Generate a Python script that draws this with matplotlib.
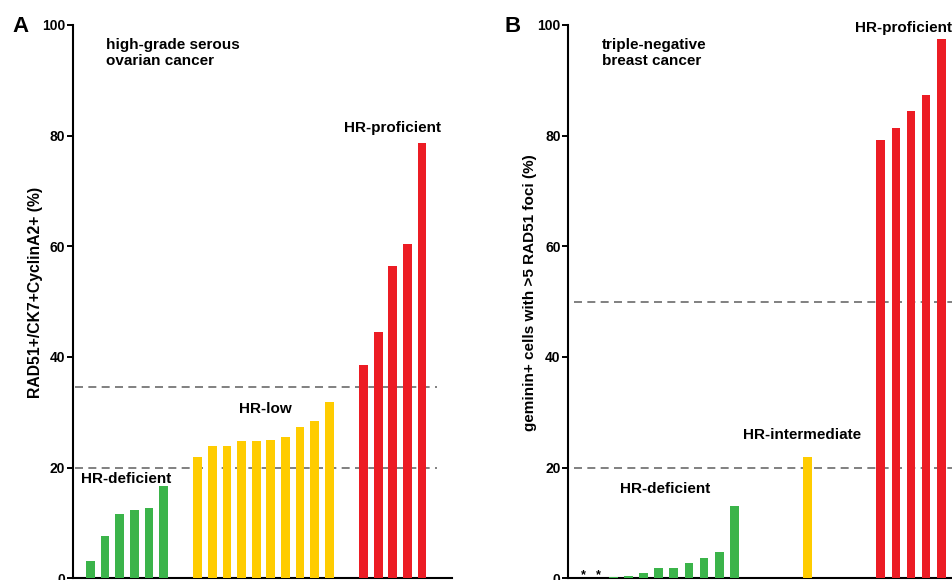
import matplotlib.pyplot as plt

plt.rcParams['font.family'] = ['Liberation Sans', 'DejaVu Sans']
plt.rcParams['font.weight'] = 'bold'

GREEN = '#3bb44a'
YELLOW = '#ffcc00'
RED = '#ec1c24'
DASH = '#6b6b6b'

# panel A : high-grade serous ovarian cancer
a_deficient = [3.1, 7.6, 11.6, 12.3, 12.7, 16.6]
a_low = [22.0, 23.9, 23.9, 24.8, 24.9, 25.0, 25.6, 27.4, 28.5, 31.8]
a_proficient = [38.6, 44.5, 56.5, 60.4, 78.7]
a_cutoffs = [20, 34.6]

# panel B : triple-negative breast cancer
b_deficient = [0, 0, 0.25, 0.35, 0.9, 1.9, 1.9, 2.8, 3.7, 4.7, 13.0]
b_intermediate = [21.9]
b_proficient = [79.3, 81.4, 84.4, 87.4, 97.4]
b_cutoffs = [20, 50]

yticks = [0, 20, 40, 60, 80, 100]


def positions(groups, gap):
    out = []
    start = 0.0
    for g in groups:
        out.append([start + i for i in range(len(g))])
        start = out[-1][-1] + gap
    return out


def style_axes(ax, xlim):
    ax.set_xlim(*xlim)
    ax.set_ylim(0, 100)
    ax.set_yticks(yticks)
    ax.set_xticks([])
    for s in ['top', 'right']:
        ax.spines[s].set_visible(False)
    for s in ['left', 'bottom']:
        ax.spines[s].set_linewidth(1.5)
        ax.spines[s].set_color('black')
    ax.tick_params(axis='y', length=4, width=1.4, pad=1.5, labelsize=10)
    for lab in ax.get_yticklabels():
        lab.set_fontweight('bold')


fig = plt.figure(figsize=(9.53, 5.8), dpi=100)

# ---------- A ----------
axA = fig.add_axes([73 / 953, 1.7 / 580, 379 / 953, 553.3 / 580])
xa = positions([a_deficient, a_low, a_proficient], 2.35)
for x, h, c in zip(xa, [a_deficient, a_low, a_proficient], [GREEN, YELLOW, RED]):
    axA.bar(x, h, width=0.6, color=c, zorder=3)
axA.hlines(a_cutoffs, -1.06, 23.7, colors=DASH, linewidth=1.2,
           linestyles=(0, (4.8, 3.2)), zorder=1)
style_axes(axA, (-1.2, 24.76))
axA.set_ylabel('RAD51+/CK7+CyclinA2+ (%)', fontsize=11.3, fontweight='bold', va='center')
axA.yaxis.set_label_coords(-0.098, 0.517)
axA.text(1.04, 97.6, 'high-grade serous\novarian cancer', fontsize=11, fontweight='bold',
         ha='left', va='top', linespacing=1.15)
axA.text(20.7, 80.7, 'HR-proficient', fontsize=11, fontweight='bold', ha='center', va='baseline')
axA.text(11.95, 29.8, 'HR-low', fontsize=11, fontweight='bold', ha='center', va='baseline')
axA.text(2.43, 17.2, 'HR-deficient', fontsize=11, fontweight='bold', ha='center', va='baseline')

# ---------- B ----------
axB = fig.add_axes([568.3 / 953, 1.7 / 580, (953 - 568.3) / 953, 553.3 / 580])
xb = positions([b_deficient, b_intermediate, b_proficient], 4.85)
for x, h, c in zip(xb, [b_deficient, b_intermediate, b_proficient], [GREEN, YELLOW, RED]):
    axB.bar(x, h, width=0.58, color=c, zorder=3)
axB.hlines(b_cutoffs, -0.62, 25, colors=DASH, linewidth=1.2,
           linestyles=(0, (4.8, 3.2)), zorder=1)
style_axes(axB, (-0.99, 24.48))
axB.set_ylabel('geminin+ cells with >5 RAD51 foci (%)', fontsize=11, fontweight='bold', va='center')
axB.yaxis.set_label_coords(-0.1, 0.517)
axB.text(1.26, 97.6, 'triple-negative\nbreast cancer', fontsize=11, fontweight='bold',
         ha='left', va='top', linespacing=1.15)
axB.text(21.2, 98.8, 'HR-proficient', fontsize=11, fontweight='bold', ha='center',
         va='baseline', clip_on=False)
axB.text(14.5, 25.1, 'HR-intermediate', fontsize=11, fontweight='bold', ha='center', va='baseline')
axB.text(5.41, 15.5, 'HR-deficient', fontsize=11, fontweight='bold', ha='center', va='baseline')
for x, h in zip(xb[0], b_deficient):
    if h == 0:
        axB.text(x, 0.1, '*', fontsize=9, fontweight='bold', ha='center', va='baseline',
                 clip_on=False)

fig.text(12 / 953, 1 - 16 / 580, 'A', fontsize=16, fontweight='bold', ha='left', va='top')
fig.text(505 / 953, 1 - 16 / 580, 'B', fontsize=16, fontweight='bold', ha='left', va='top')

fig.savefig('out.png', dpi=100)
